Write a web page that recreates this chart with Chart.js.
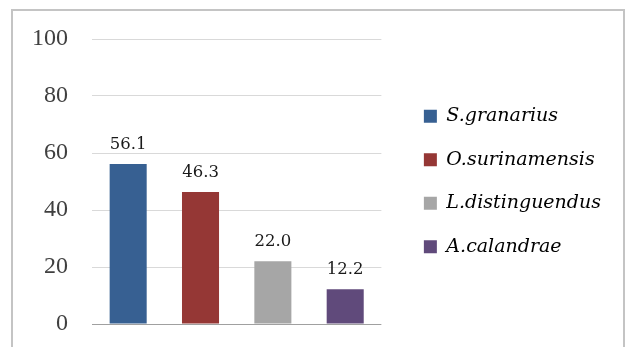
<!DOCTYPE html>
<html>
<head>
<meta charset="utf-8">
<script src="https://cdn.jsdelivr.net/npm/chart.js@4.4.1/dist/chart.umd.min.js"></script>
<style>
  html, body { margin: 0; padding: 0; background: #fff; }
  #frame {
    position: absolute; left: 11px; top: 9px;
    width: 614px; height: 400px; box-sizing: border-box;
    border: 2px solid #c4c4c4; border-bottom: none;
  }
  #wrap { position: absolute; left: 0; top: 0; width: 628px; height: 347px; }
</style>
</head>
<body>
<div id="frame"></div>
<div id="wrap"><canvas id="speciesChart"></canvas></div>
<script>
// Species and their values
const species = ['S.granarius', 'O.surinamensis', 'L.distinguendus', 'A.calandrae'];
const values = [56.1, 46.3, 22.0, 12.2];
const barColors = ['#376092', '#953735', '#a6a6a6', '#604a7b'];
const yTicks = [0, 20, 40, 60, 80, 100];

const serif = 'DejaVu Serif';
const tickSerif = 'Liberation Serif';

// Value labels above each bar
const barValueLabels = {
  id: 'barValueLabels',
  afterDatasetsDraw(chart) {
    const ctx = chart.ctx;
    const meta = chart.getDatasetMeta(0);
    ctx.save();
    ctx.font = '16.5px "' + serif + '"';
    ctx.fillStyle = '#1a1a1a';
    ctx.textAlign = 'center';
    ctx.textBaseline = 'alphabetic';
    meta.data.forEach((bar, i) => {
      ctx.fillText(values[i].toFixed(1), bar.x, bar.y - 15);
    });
    ctx.restore();
  }
};

new Chart(document.getElementById('speciesChart'), {
  type: 'bar',
  data: {
    labels: species,
    datasets: [{
      data: values,
      backgroundColor: barColors,
      borderWidth: 0,
      categoryPercentage: 1,
      barPercentage: 0.512
    }]
  },
  options: {
    responsive: true,
    maintainAspectRatio: false,
    animation: false,
    layout: { padding: { left: 0, top: 39, bottom: 23, right: 17 } },
    plugins: {
      tooltip: { enabled: false },
      legend: {
        position: 'right',
        maxWidth: 240,
        labels: {
          boxWidth: 13,
          boxHeight: 13,
          padding: 24.5,
          color: '#404040',
          font: { family: serif, size: 19, style: 'italic' },
          generateLabels(chart) {
            return species.map((name, i) => ({
              text: name,
              fillStyle: barColors[i],
              strokeStyle: barColors[i],
              lineWidth: 0,
              hidden: false,
              index: i
            }));
          }
        }
      }
    },
    scales: {
      x: { display: false },
      y: {
        min: 0,
        max: 100,
        afterBuildTicks(scale) { scale.ticks = yTicks.map(v => ({ value: v })); },
        afterFit(scale) {
          scale.width = 92;
          scale.paddingTop = 0;
          scale.paddingBottom = 0;
        },
        border: { display: false },
        grid: {
          drawTicks: false,
          color: ctx => ctx.tick && ctx.tick.value === 0 ? '#a0a0a0' : '#d9d9d9'
        },
        ticks: {
          padding: 24,
          color: '#404040',
          font: { family: tickSerif, size: 24 }
        }
      },
      // spacer between plot and legend
      gap: {
        type: 'linear',
        position: 'right',
        display: true,
        grid: { display: false },
        border: { display: false },
        ticks: { display: false },
        afterFit(scale) {
          scale.width = 18;
          scale.paddingTop = 0;
          scale.paddingBottom = 0;
        }
      }
    }
  },
  plugins: [barValueLabels]
});
</script>
</body>
</html>
